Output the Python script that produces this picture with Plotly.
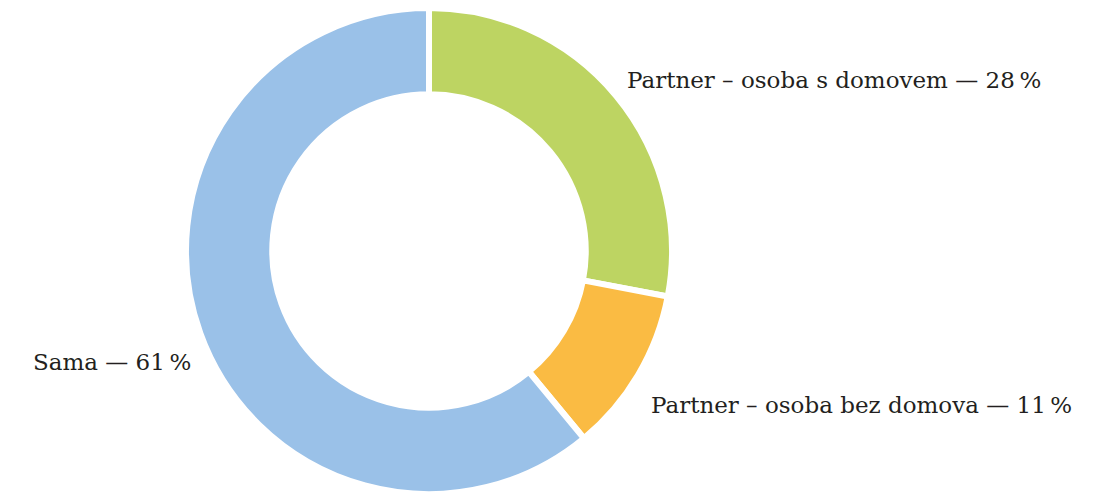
import plotly.graph_objects as go

labels = ["Partner – osoba s domovem", "Partner – osoba bez domova", "Sama"]
values = [28, 11, 61]
colors = ["#BDD462", "#FABB43", "#9AC1E8"]
label_texts = ["Partner – osoba s domovem — 28\u2009%",
               "Partner – osoba bez domova — 11\u2009%",
               "Sama — 61\u2009%"]

OFF = 8  # page body margin
W, H = 1095 - OFF, 494 - OFF
cx = 429 - OFF
r = H / 2
fig = go.Figure(go.Pie(
    labels=labels, values=values, sort=False, direction="clockwise", rotation=0,
    hole=0.645, textinfo="none", hoverinfo="label+percent",
    marker=dict(colors=colors, line=dict(color="white", width=6)),
    domain=dict(x=[(cx - r) / W, (cx + r) / W], y=[0, 1]),
    showlegend=False,
))

positions = [(625, 80), (649, 405), (31, 362)]
for txt, (x, y) in zip(label_texts, positions):
    fig.add_annotation(text=txt, x=(x - OFF) / W, y=1 - (y - OFF) / H, xref="paper", yref="paper",
                       xanchor="left", yanchor="middle", showarrow=False,
                       font=dict(family="DejaVu Serif", size=23, color="#231F20"))

fig.update_layout(width=W, height=H, margin=dict(l=0, r=0, t=0, b=0),
                  paper_bgcolor="white", plot_bgcolor="white")
fig.write_html("out.html")
